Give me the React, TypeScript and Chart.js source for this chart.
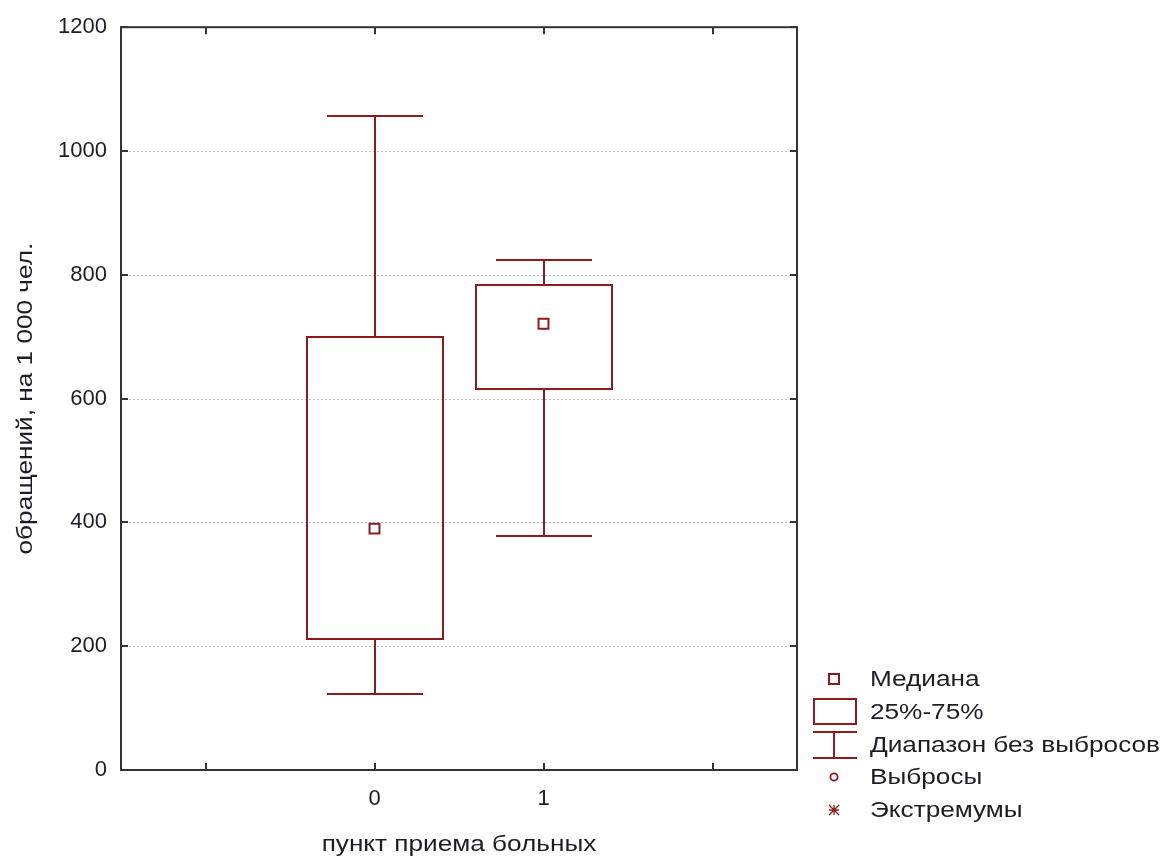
import React, { useEffect, useRef } from 'react';
import { Chart, registerables } from 'chart.js';

Chart.register(...registerables);

// ---- data ----
const categories = [0, 1];
const categoryLabels = ['0', '1'];
const whiskerMin = [122, 378];
const q1 = [212, 616];
const median = [390, 721];
const q3 = [700, 783];
const whiskerMax = [1056, 824];
const xTickValues = [-1, 0, 1, 2];
const yTickValues = [0, 200, 400, 600, 800, 1000, 1200];
const gridValues = [200, 400, 600, 800, 1000];
const legendLabels = ['Медиана', '25%-75%', 'Диапазон без выбросов', 'Выбросы', 'Экстремумы'];
const xTitle = 'пункт приема больных';
const yTitle = 'обращений, на 1 000 чел.';

const BOX_COLOR = '#8c1a1e';
const TEXT_COLOR = '#1c1c26';
const AXIS_COLOR = '#333333';
const FONT_FAMILY = '"Liberation Sans", Arial, sans-serif';
const TICK_FONT_SIZE = 22;
const LABEL_FONT_SIZE = 22;
const LABEL_STRETCH = 1.19;

function stretchedText(ctx: any, text: string, x: number, y: number, rotate: number, align: string) {
  ctx.save();
  ctx.translate(x, y);
  if (rotate) ctx.rotate(rotate);
  ctx.scale(LABEL_STRETCH, 1);
  ctx.textAlign = align;
  ctx.fillText(text, 0, 0);
  ctx.restore();
}

const boxPlugin = {
  id: 'boxPlugin',
  beforeDatasetsDraw(chart: any) {
    const { ctx, chartArea } = chart;
    const xs = chart.scales.x;
    const ys = chart.scales.y;
    ctx.save();
    // dotted grid
    ctx.strokeStyle = '#c0c0c0';
    ctx.lineWidth = 1;
    ctx.setLineDash([2, 2]);
    gridValues.forEach((v) => {
      const y = Math.round(ys.getPixelForValue(v)) + 0.5;
      ctx.beginPath();
      ctx.moveTo(chartArea.left, y);
      ctx.lineTo(chartArea.right, y);
      ctx.stroke();
    });
    ctx.setLineDash([]);
    // boxes and whiskers
    const unit = xs.getPixelForValue(1) - xs.getPixelForValue(0);
    const boxHalf = unit * 0.405;
    const capHalf = unit * 0.285;
    ctx.strokeStyle = BOX_COLOR;
    ctx.lineWidth = 2;
    categories.forEach((c, i) => {
      const cx = Math.round(xs.getPixelForValue(c));
      const yq1 = Math.round(ys.getPixelForValue(q1[i]));
      const yq3 = Math.round(ys.getPixelForValue(q3[i]));
      const ymin = Math.round(ys.getPixelForValue(whiskerMin[i]));
      const ymax = Math.round(ys.getPixelForValue(whiskerMax[i]));
      const bl = Math.round(cx - boxHalf);
      const br = Math.round(cx + boxHalf);
      ctx.strokeRect(bl, yq3, br - bl, yq1 - yq3);
      ctx.beginPath();
      ctx.moveTo(cx, yq3);
      ctx.lineTo(cx, ymax);
      ctx.moveTo(Math.round(cx - capHalf), ymax);
      ctx.lineTo(Math.round(cx + capHalf), ymax);
      ctx.moveTo(cx, yq1);
      ctx.lineTo(cx, ymin);
      ctx.moveTo(Math.round(cx - capHalf), ymin);
      ctx.lineTo(Math.round(cx + capHalf), ymin);
      ctx.stroke();
    });
    ctx.restore();
  },
  afterDraw(chart: any) {
    const { ctx, chartArea } = chart;
    const xs = chart.scales.x;
    const ys = chart.scales.y;
    const { left, right, top, bottom } = chartArea;
    ctx.save();
    // frame
    ctx.strokeStyle = AXIS_COLOR;
    ctx.lineWidth = 2;
    ctx.strokeRect(left, top, right - left, bottom - top);
    // inward ticks
    const tl = 7;
    ctx.beginPath();
    yTickValues.forEach((v) => {
      const y = Math.round(ys.getPixelForValue(v));
      ctx.moveTo(left, y);
      ctx.lineTo(left + tl, y);
      ctx.moveTo(right, y);
      ctx.lineTo(right - tl, y);
    });
    xTickValues.forEach((v) => {
      const x = Math.round(xs.getPixelForValue(v));
      ctx.moveTo(x, bottom);
      ctx.lineTo(x, bottom - tl);
      ctx.moveTo(x, top);
      ctx.lineTo(x, top + tl);
    });
    ctx.stroke();

    // axis titles
    ctx.fillStyle = TEXT_COLOR;
    ctx.font = `${LABEL_FONT_SIZE}px ${FONT_FAMILY}`;
    ctx.textBaseline = 'alphabetic';
    stretchedText(ctx, xTitle, (left + right) / 2, 851, 0, 'center');
    stretchedText(ctx, yTitle, 32, (top + bottom) / 2, -Math.PI / 2, 'center');

    // legend
    const symX = 834;
    const textX = 870;
    const rowY = [679, 712, 745, 777, 810];
    ctx.strokeStyle = BOX_COLOR;
    ctx.lineWidth = 2;
    // median square
    ctx.strokeRect(symX - 5, rowY[0] - 5, 10, 10);
    // box
    ctx.strokeRect(814, rowY[1] - 13, 42, 25);
    // whisker
    ctx.beginPath();
    ctx.moveTo(813, rowY[2] - 13);
    ctx.lineTo(857, rowY[2] - 13);
    ctx.moveTo(symX, rowY[2] - 13);
    ctx.lineTo(symX, rowY[2] + 13);
    ctx.moveTo(813, rowY[2] + 13);
    ctx.lineTo(857, rowY[2] + 13);
    ctx.stroke();
    // outlier circle
    ctx.lineWidth = 1.8;
    ctx.beginPath();
    ctx.arc(symX, rowY[3], 3.6, 0, Math.PI * 2);
    ctx.stroke();
    // extreme asterisk
    ctx.lineWidth = 1.3;
    ctx.beginPath();
    const s = 5;
    ctx.moveTo(symX, rowY[4] - s);
    ctx.lineTo(symX, rowY[4] + s);
    ctx.moveTo(symX - s, rowY[4] - s);
    ctx.lineTo(symX + s, rowY[4] + s);
    ctx.moveTo(symX + s, rowY[4] - s);
    ctx.lineTo(symX - s, rowY[4] + s);
    ctx.moveTo(symX - s, rowY[4]);
    ctx.lineTo(symX + s, rowY[4]);
    ctx.stroke();

    ctx.fillStyle = TEXT_COLOR;
    ctx.font = `${LABEL_FONT_SIZE}px ${FONT_FAMILY}`;
    ctx.textBaseline = 'middle';
    legendLabels.forEach((t, i) => stretchedText(ctx, t, textX, rowY[i] + 1, 0, 'left'));
    ctx.restore();
  },
};

export default function App() {
  const ref = useRef<HTMLCanvasElement>(null);
  useEffect(() => {
    const canvas = ref.current!;
    const chart = new Chart(canvas, {
      type: 'scatter',
      data: {
        datasets: [
          {
            label: 'Медиана',
            data: categories.map((c, i) => ({ x: c, y: median[i] })),
            pointStyle: 'rect',
            radius: 7,
            borderWidth: 2,
            borderColor: BOX_COLOR,
            backgroundColor: '#ffffff',
          },
        ],
      },
      options: {
        animation: false,
        responsive: false,
        devicePixelRatio: 1,
        layout: { padding: { top: 25, right: 376, left: 0, bottom: 0 } },
        plugins: { legend: { display: false }, tooltip: { enabled: false } },
        scales: {
          x: {
            type: 'linear',
            min: -1.5,
            max: 2.5,
            afterBuildTicks: (s: any) => {
              s.ticks = xTickValues.map((v) => ({ value: v }));
            },
            afterFit: (s: any) => {
              s.height = 87;
            },
            grid: { display: false, drawTicks: false },
            border: { display: false },
            ticks: {
              padding: 16,
              color: TEXT_COLOR,
              font: { family: FONT_FAMILY, size: TICK_FONT_SIZE },
              maxRotation: 0,
              autoSkip: false,
              callback: (v: any) => {
                const idx = categories.indexOf(v);
                return idx >= 0 ? categoryLabels[idx] : '';
              },
            },
          },
          y: {
            type: 'linear',
            min: 0,
            max: 1200,
            afterBuildTicks: (s: any) => {
              s.ticks = yTickValues.map((v) => ({ value: v }));
            },
            afterFit: (s: any) => {
              s.width = 121;
            },
            grid: { display: false, drawTicks: false },
            border: { display: false },
            ticks: {
              padding: 14,
              color: TEXT_COLOR,
              font: { family: FONT_FAMILY, size: TICK_FONT_SIZE },
              callback: (v: any) => String(v),
            },
          },
        },
      },
      plugins: [boxPlugin],
    } as any);
    return () => chart.destroy();
  }, []);
  return (
    <div style={{ position: 'fixed', left: 0, top: 0, width: 1173, height: 857, background: '#ffffff' }}>
      <canvas ref={ref} width={1173} height={857} style={{ display: 'block', width: 1173, height: 857 }} />
    </div>
  );
}
